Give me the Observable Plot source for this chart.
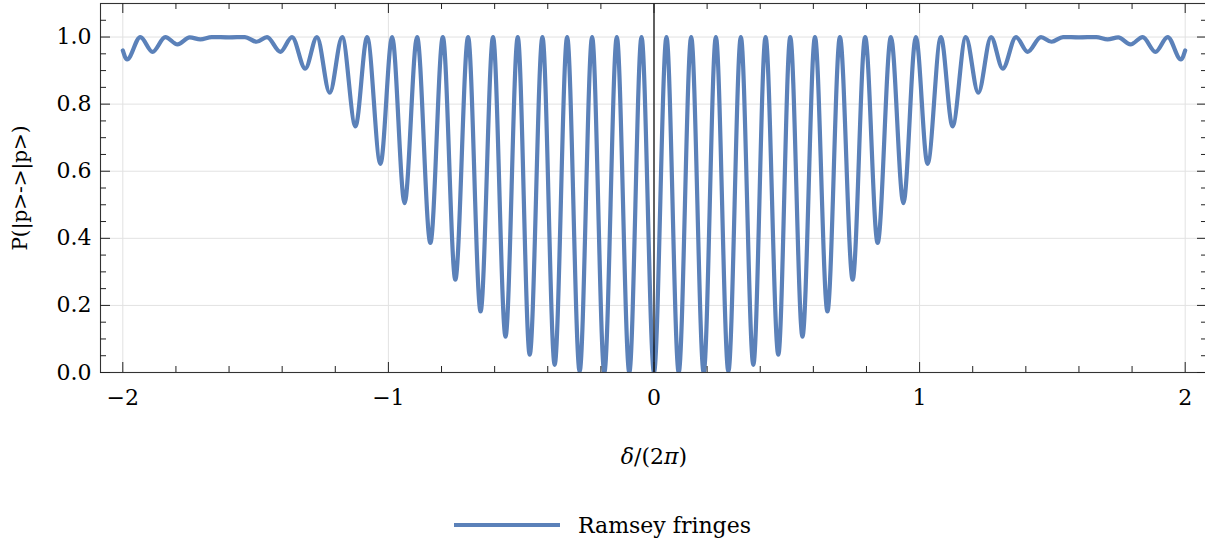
<!DOCTYPE html>
<html>
<head>
<meta charset="utf-8">
<script src="https://cdn.jsdelivr.net/npm/d3@7"></script>
<script src="https://cdn.jsdelivr.net/npm/@observablehq/plot@0.6"></script>
<style>
  html, body { margin: 0; padding: 0; background: #fff; }
  #chart svg { display: block; }
  #legend {
    width: 1205px; height: 67px; padding-top: 23px; box-sizing: border-box;
    display: flex; align-items: center; justify-content: center;
    font-family: "DejaVu Serif", serif; font-size: 22px; color: #000;
  }
  #legend span { margin-left: 18px; }
</style>
</head>
<body>
<div id="chart"></div>
<div id="legend"></div>
<script>
// Extrema of the Ramsey fringe curve (x = δ/(2π), y = probability)
const deltaValues = [
  -2.000, -1.984, -1.934, -1.888, -1.840, -1.794, -1.748, -1.708, -1.665, -1.600, -1.540,
  -1.497, -1.457, -1.407, -1.363, -1.313, -1.269, -1.221, -1.174, -1.124, -1.080,
  -1.030, -0.986, -0.939, -0.892, -0.842, -0.795, -0.748, -0.700, -0.653, -0.606,
  -0.559, -0.513, -0.468, -0.420, -0.374, -0.327, -0.280, -0.233, -0.187, -0.140,
  -0.093, -0.047, 0.000,
  0.047, 0.093, 0.140, 0.187, 0.233, 0.280, 0.327, 0.374, 0.420, 0.468, 0.513,
  0.559, 0.606, 0.653, 0.700, 0.748, 0.795, 0.842, 0.892, 0.939, 0.986, 1.030,
  1.080, 1.124, 1.174, 1.221, 1.269, 1.313, 1.363, 1.407, 1.457, 1.497, 1.540,
  1.600, 1.665, 1.708, 1.748, 1.794, 1.840, 1.888, 1.934, 1.984, 2.000
];
const probValues = [
  0.960, 0.933, 1.000, 0.956, 1.000, 0.978, 0.999, 0.993, 1.000, 0.999, 1.000,
  0.986, 1.000, 0.956, 1.000, 0.906, 1.000, 0.834, 1.000, 0.734, 1.000,
  0.622, 1.000, 0.505, 1.000, 0.386, 1.000, 0.277, 1.000, 0.182, 1.000,
  0.107, 1.000, 0.053, 1.000, 0.023, 1.000, 0.003, 1.000, 0.000, 1.000,
  0.000, 1.000, 0.000,
  1.000, 0.000, 1.000, 0.000, 1.000, 0.003, 1.000, 0.023, 1.000, 0.053, 1.000,
  0.107, 1.000, 0.182, 1.000, 0.277, 1.000, 0.386, 1.000, 0.505, 1.000, 0.622,
  1.000, 0.734, 1.000, 0.834, 1.000, 0.906, 1.000, 0.956, 1.000, 0.986, 1.000,
  0.999, 1.000, 0.993, 0.999, 0.978, 1.000, 0.956, 1.000, 0.933, 0.960
];
const xTicks = [-2, -1, 0, 1, 2];
const xMinorTicks = [-1.8, -1.6, -1.4, -1.2, -0.8, -0.6, -0.4, -0.2, 0.2, 0.4, 0.6, 0.8, 1.2, 1.4, 1.6, 1.8];
const yTicks = [0, 0.2, 0.4, 0.6, 0.8, 1.0];
const yMinorTicks = [0.05, 0.1, 0.15, 0.25, 0.3, 0.35, 0.45, 0.5, 0.55, 0.65, 0.7, 0.75, 0.85, 0.9, 0.95, 1.05];
const seriesName = "Ramsey fringes";
const xLabel = "δ/(2π)";
const yLabel = "P(|p>->|p>)";

const data = deltaValues.map((x, i) => ({x, y: probValues[i]}));

const W = 1205, H = 480;
const mL = 100, mR = -2, mT = 3, mB = 108;
const innerW = W - mL - mR, innerH = H - mT - mB;
const color = "#5b81b9";
const fmtX = d => (d < 0 ? "\u2212" + Math.abs(d) : String(d));

const plot = Plot.plot({
  width: W, height: H,
  marginLeft: mL, marginRight: mR, marginTop: mT, marginBottom: mB,
  style: {fontFamily: "'DejaVu Serif', serif", fontSize: "22px", color: "#000", background: "#fff", overflow: "hidden"},
  x: {domain: [-2.084, 2.084]},
  y: {domain: [0, 1.1]},
  marks: [
    Plot.gridX(xTicks, {stroke: "#e2e2e2", strokeOpacity: 1, strokeWidth: 1}),
    Plot.gridY(yTicks, {stroke: "#e2e2e2", strokeOpacity: 1, strokeWidth: 1}),
    Plot.line(data, {x: "x", y: "y", stroke: color, strokeWidth: 4.2, curve: "monotone-x", clip: true}),
    Plot.ruleX([0], {stroke: "#000", strokeWidth: 1.2}),
    Plot.frame({stroke: "#333", strokeWidth: 1.1}),
    // inward ticks on all four sides
    Plot.tickX(xTicks, {x: d => d, insetTop: innerH - 10, stroke: "#222"}),
    Plot.tickX(xMinorTicks, {x: d => d, insetTop: innerH - 6, stroke: "#222"}),
    Plot.tickX(xTicks, {x: d => d, insetBottom: innerH - 10, stroke: "#222"}),
    Plot.tickX(xMinorTicks, {x: d => d, insetBottom: innerH - 6, stroke: "#222"}),
    Plot.tickY(yTicks, {y: d => d, insetRight: innerW - 10, stroke: "#222"}),
    Plot.tickY(yMinorTicks, {y: d => d, insetRight: innerW - 6, stroke: "#222"}),
    Plot.tickY(yTicks, {y: d => d, insetLeft: innerW - 10, stroke: "#222"}),
    Plot.tickY(yMinorTicks, {y: d => d, insetLeft: innerW - 6, stroke: "#222"}),
    Plot.axisX({ticks: xTicks, tickSize: 0, tickPadding: 17, tickFormat: fmtX, label: null}),
    Plot.axisY({ticks: yTicks, tickSize: 0, tickPadding: 9, tickFormat: d3.format(".1f"), label: null}),
    Plot.text([xLabel], {text: d => d, frameAnchor: "bottom", dy: 84, lineAnchor: "middle", textAnchor: "middle"}),
    Plot.text([yLabel], {text: d => d, frameAnchor: "left", dx: -80, rotate: -90, lineAnchor: "middle", textAnchor: "middle", fontSize: 20})
  ]
});
document.getElementById("chart").appendChild(plot);

// italic math symbols in the x label
d3.select(plot).selectAll("text").filter(function () { return this.textContent === xLabel; })
  .each(function () {
    const t = d3.select(this);
    t.text(null);
    const parts = [["δ", true], ["/(2", false], ["π", true], [")", false]];
    for (const [s, it] of parts) t.append("tspan").attr("font-style", it ? "italic" : "normal").text(s);
  });

// legend below the chart
const legend = d3.select("#legend");
const ls = legend.append("svg").attr("width", 106).attr("height", 8);
ls.append("line").attr("x1", 0).attr("x2", 106).attr("y1", 4).attr("y2", 4)
  .attr("stroke", color).attr("stroke-width", 4);
legend.append("span").text(seriesName);
</script>
</body>
</html>
